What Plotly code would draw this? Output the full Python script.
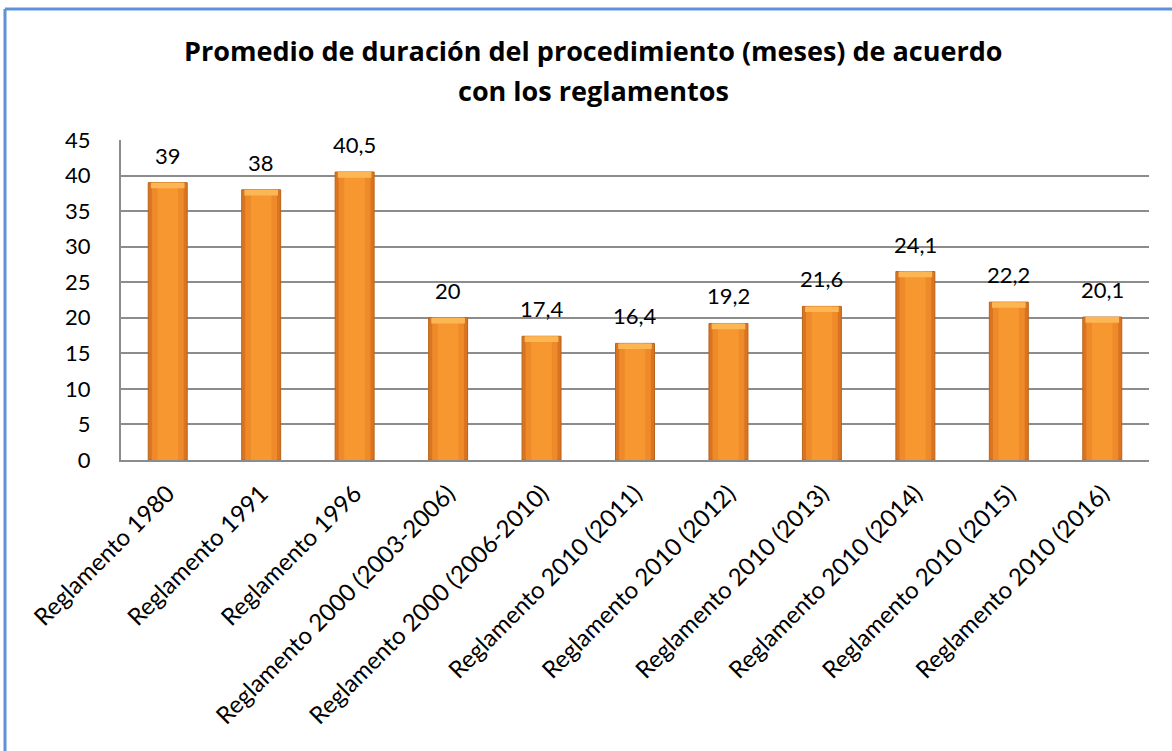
import plotly.graph_objects as go

categories = [
    "Reglamento 1980", "Reglamento 1991", "Reglamento 1996",
    "Reglamento 2000 (2003-2006)", "Reglamento 2000 (2006-2010)",
    "Reglamento 2010 (2011)", "Reglamento 2010 (2012)", "Reglamento 2010 (2013)",
    "Reglamento 2010 (2014)", "Reglamento 2010 (2015)", "Reglamento 2010 (2016)",
]
values = [39, 38, 40.5, 20, 17.4, 16.4, 19.2, 21.6, 26.5, 22.2, 20.1]
labels = ["39", "38", "40,5", "20", "17,4", "16,4", "19,2", "21,6", "24,1", "22,2", "20,1"]
y_ticks = [0, 5, 10, 15, 20, 25, 30, 35, 40, 45]
title_lines = ["Promedio de duración del procedimiento (meses) de acuerdo", "con los reglamentos"]

W, H = 1172, 751
L, R, T, B = 121, 23, 140, 291
FONT = "Lato"
TFONT = "Open Sans"

pw = W - L - R
ph = H - T - B
def px(xp):
    return (xp - L) / pw
def py(yp):
    return (H - B - yp) / ph

fig = go.Figure()
# layered bars to mimic the horizontal gradient
for w, col, lw in [(0.417, "#DB7420", 1), (0.34, "#EE8A2A", 0), (0.22, "#F6982F", 0)]:
    fig.add_trace(go.Bar(
        x=categories, y=values, width=w,
        marker=dict(color=col, line=dict(color="#B86419" if lw else col, width=lw)),
        hoverinfo="skip", showlegend=False,
    ))
# light bevel at the top of each bar
bevel = 0.8
fig.add_trace(go.Bar(
    x=categories, y=[bevel] * len(values), base=[v - bevel for v in values], width=0.36,
    marker=dict(color="#FCB653", line=dict(width=0)), hoverinfo="skip", showlegend=False,
))

for c, v, t in zip(categories, values, labels):
    fig.add_annotation(x=c, y=v, text=t, showarrow=False, yanchor="bottom",
                       yshift=12, font=dict(family=FONT, size=22, color="#000000"))

for line, yc in zip(title_lines, [50, 90]):
    fig.add_annotation(xref="paper", yref="paper", x=px(593), y=py(yc),
                       xanchor="center", yanchor="middle", showarrow=False,
                       text="<b>" + line + "</b>",
                       font=dict(family=TFONT, size=27, color="#000000"))

border = "#5E91D8"
fig.add_shape(type="line", xref="paper", yref="paper", x0=px(5), x1=px(1300),
              y0=py(9), y1=py(9), line=dict(color=border, width=3))
fig.add_shape(type="line", xref="paper", yref="paper", x0=px(5), x1=px(5),
              y0=py(9), y1=py(900), line=dict(color=border, width=3))

fig.update_layout(
    width=W, height=H,
    margin=dict(l=L, r=R, t=T, b=B),
    paper_bgcolor="white", plot_bgcolor="white",
    barmode="overlay",
    font=dict(family=FONT, size=21, color="#000000"),
)
fig.update_xaxes(
    type="category", tickangle=-45, showline=True, linecolor="#8C8C8C", linewidth=2,
    showgrid=False, ticks="", ticklabelstandoff=8,
    tickfont=dict(family=FONT, size=24, color="#000000"),
)
fig.update_yaxes(
    range=[0, 45], tickvals=y_ticks, ticktext=[str(v) for v in y_ticks],
    showgrid=True, gridcolor="#8C8C8C", gridwidth=1.5,
    showline=True, linecolor="#8C8C8C", linewidth=2, zeroline=False,
    ticks="", ticklabelstandoff=24,
    tickfont=dict(family=FONT, size=22, color="#000000"),
)

fig.write_html(
    "out.html",
    config={"displayModeBar": False},
    post_script="document.body.style.margin='0';document.body.style.overflow='hidden';",
)
